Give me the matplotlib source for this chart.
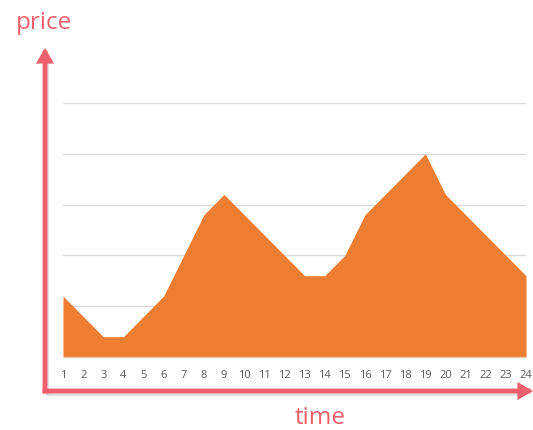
import matplotlib
matplotlib.use("Agg")
import matplotlib.pyplot as plt
from matplotlib import patheffects as pe
from matplotlib.patches import FancyArrowPatch

time = list(range(1, 25))
price = [1.2, 0.8, 0.4, 0.4, 0.8, 1.2, 2.0, 2.8, 3.2, 2.8, 2.4, 2.0,
         1.6, 1.6, 2.0, 2.8, 3.2, 3.6, 4.0, 3.2, 2.8, 2.4, 2.0, 1.6]
x_label = "time"
y_label = "price"

W, H = 533, 430
fig = plt.figure(figsize=(W / 100, H / 100), dpi=100)
fig.patch.set_facecolor("white")

ax = fig.add_axes([63 / W, (H - 357) / H, (526 - 63) / W, (357 - 103) / H])
ax.fill_between(time, price, 0, color="#ED7D31", linewidth=0, zorder=2)
ax.set_xlim(1, 24)
ax.set_ylim(0, 5)
ax.set_yticks([1, 2, 3, 4, 5])
ax.set_yticklabels([])
ax.tick_params(axis="y", length=0)
ax.grid(axis="y", color="#D9D9D9", linewidth=1, zorder=0)
ax.set_axisbelow(True)
ax.axhline(0, color="#D9D9D9", linewidth=1, zorder=3)
for s in ax.spines.values():
    s.set_visible(False)
ax.set_xticks(time)
ax.set_xticklabels([str(t) for t in time], fontsize=8, color="#595959",
                   family=["Open Sans", "DejaVu Sans"])
ax.tick_params(axis="x", length=0, pad=9)

red = "#EF5F6C"
shadow = [pe.SimplePatchShadow(offset=(1.5, -1.5), shadow_rgbFace="#888888", alpha=0.4),
          pe.Normal()]


def fx(px):
    return px / W


def fy(py):
    return 1 - py / H


for start, end in [((45, 391), (45, 48)), ((45, 391), (533, 391))]:
    arr = FancyArrowPatch(
        (fx(start[0]), fy(start[1])), (fx(end[0]), fy(end[1])), transform=fig.transFigure,
        arrowstyle="-|>,head_length=6,head_width=3.5", mutation_scale=1,
        color=red, linewidth=3.5, shrinkA=0, shrinkB=0, capstyle="projecting",
        joinstyle="miter")
    arr.set_path_effects([pe.withStroke(linewidth=3.5, foreground="#bbbbbb", alpha=0.0)])
    fig.add_artist(arr)

# soft shadow lines
fig.add_artist(plt.Line2D([fx(47), fx(47)], [fy(393), fy(60)], transform=fig.transFigure,
                          color="#cccccc", linewidth=2, zorder=0, alpha=0.6))
fig.add_artist(plt.Line2D([fx(47), fx(522)], [fy(394), fy(394)], transform=fig.transFigure,
                          color="#cccccc", linewidth=2, zorder=0, alpha=0.6))

fig.text(fx(44), fy(23), y_label, color=red, fontsize=17.5, ha="center", va="center",
         family=["Open Sans", "DejaVu Sans"])
fig.text(fx(320), fy(418), x_label, color=red, fontsize=17.5, ha="center", va="center",
         family=["Open Sans", "DejaVu Sans"])

fig.savefig("out.png", dpi=100)
